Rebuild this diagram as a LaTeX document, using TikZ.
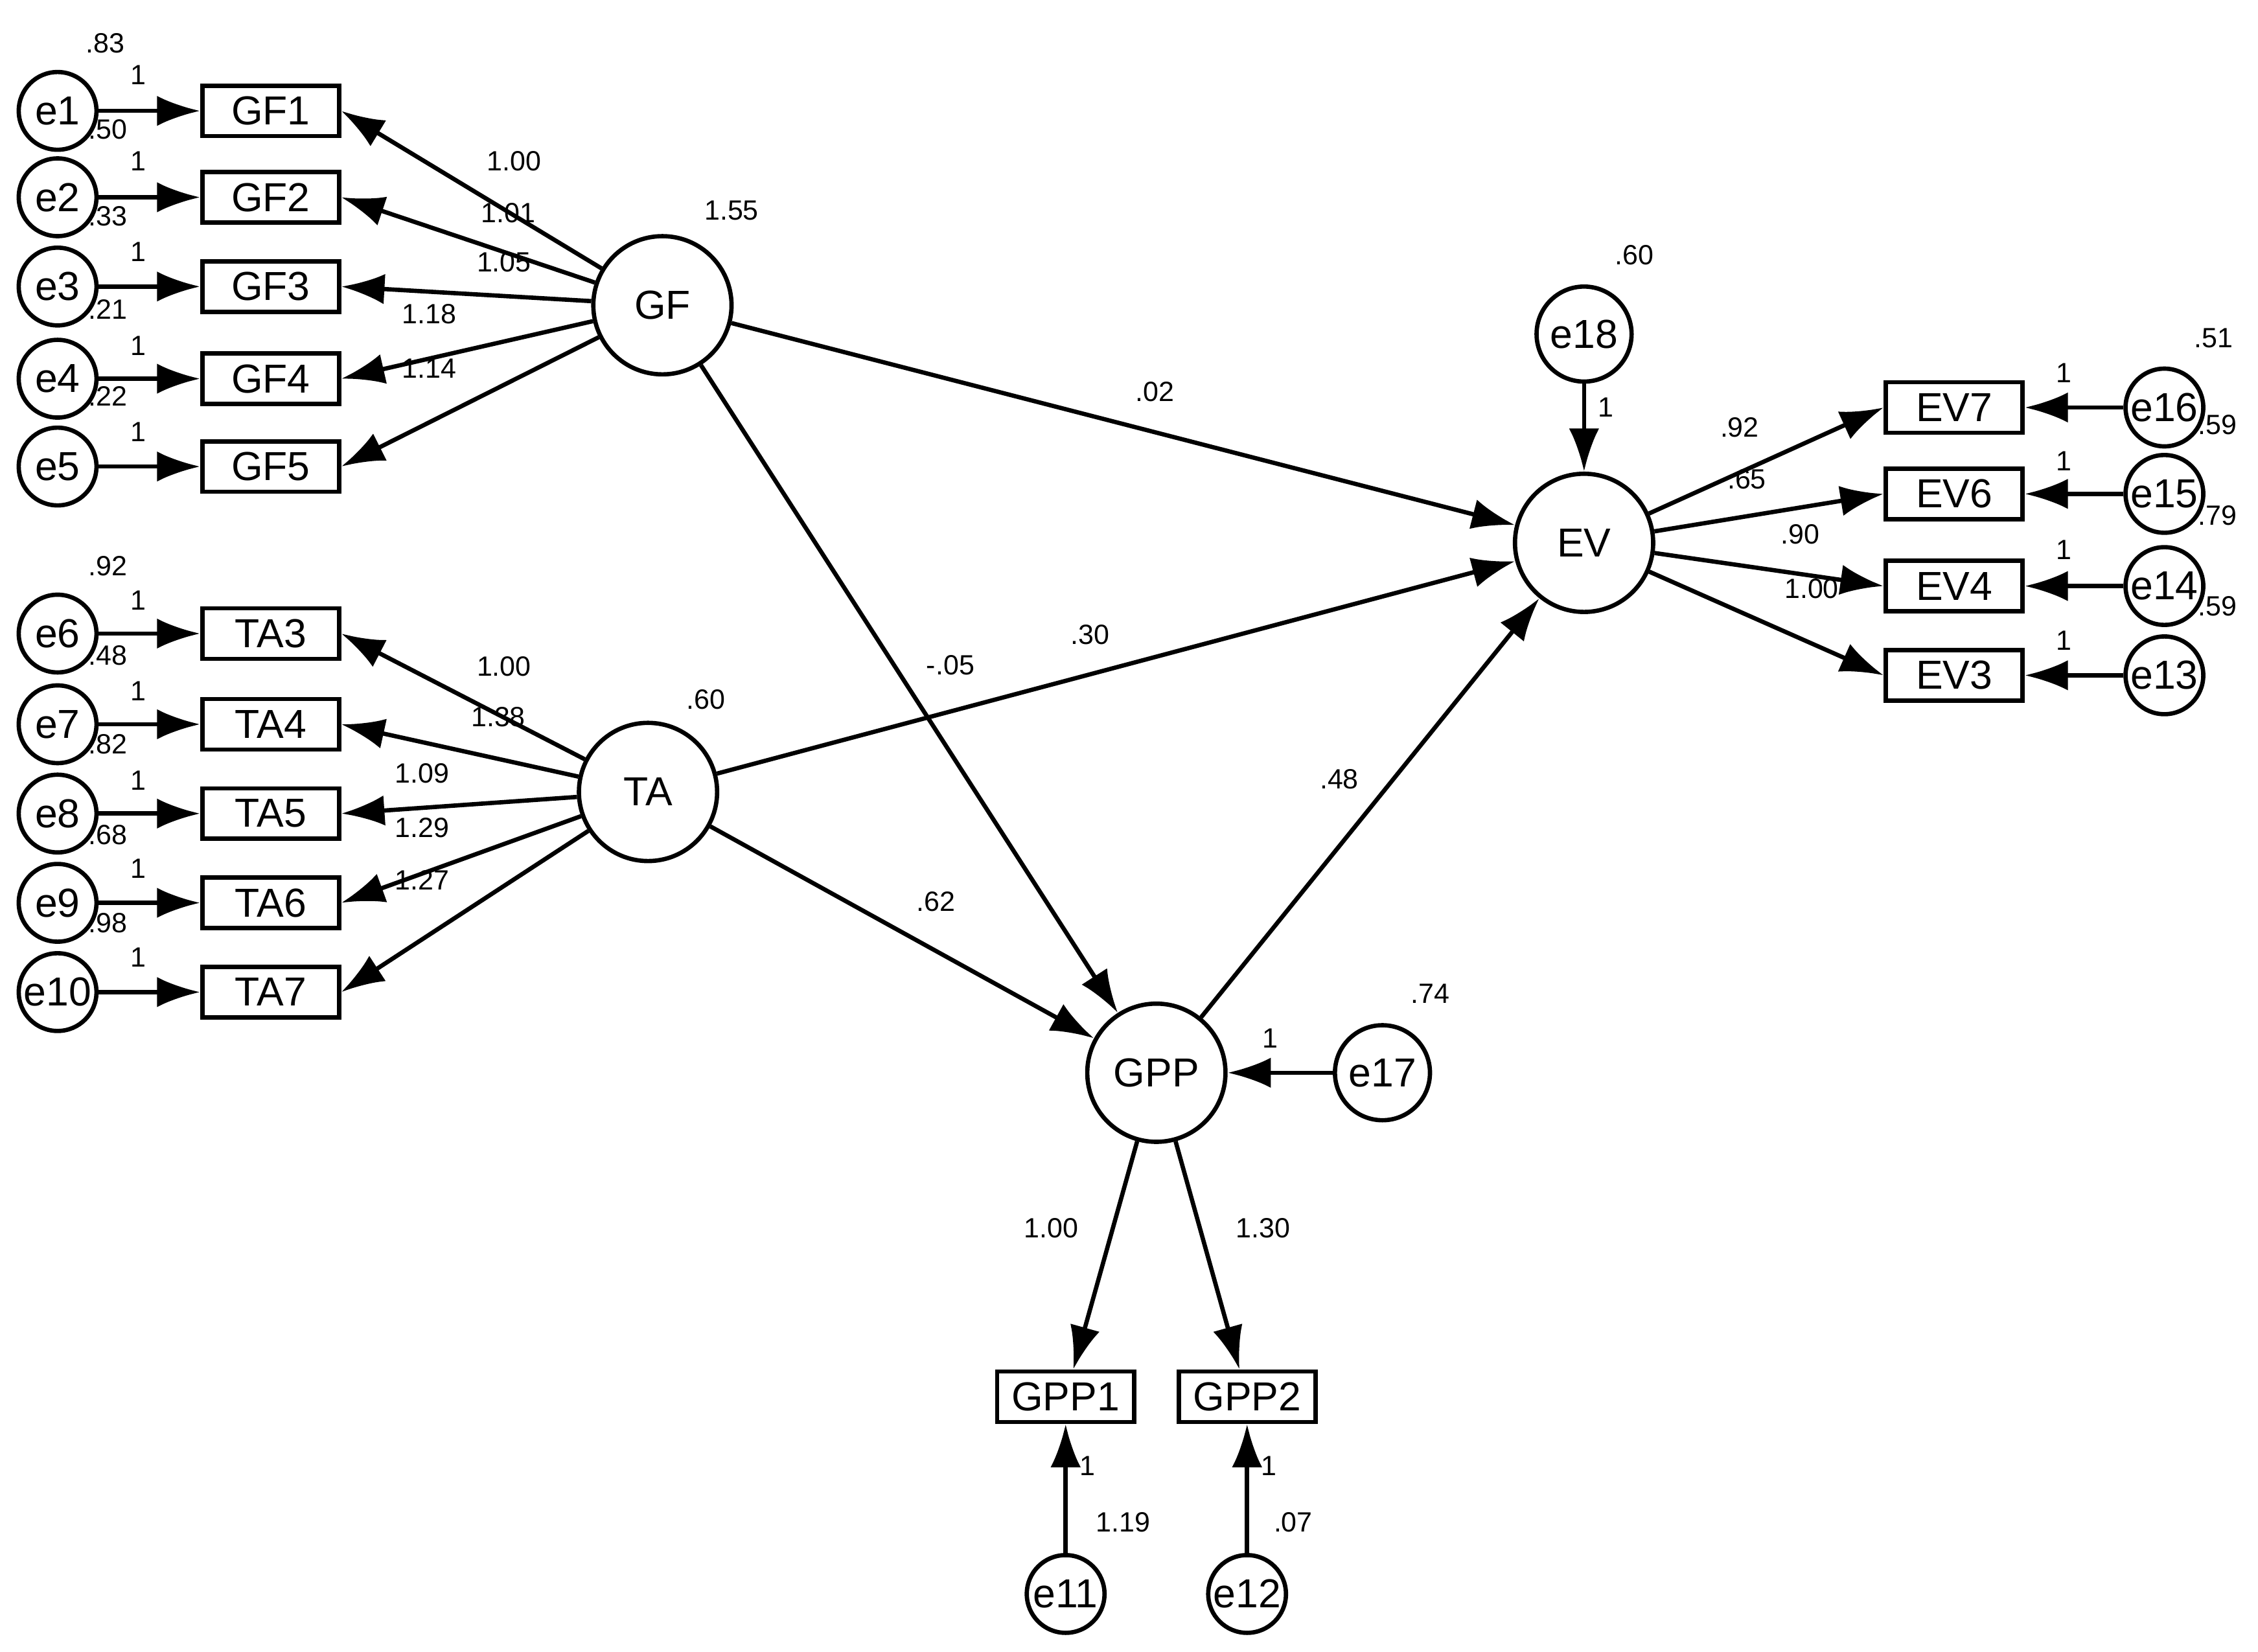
\documentclass[tikz,border=0pt]{standalone}
\usepackage{fontspec}
\setmainfont{Liberation Sans}
\usetikzlibrary{positioning,calc,arrows.meta}

\begin{document}
\begin{tikzpicture}[x=0.02cm,y=-0.02cm,line width=1.7pt,
				lat/.style={circle,draw,minimum size=1.92cm,inner sep=0pt,font=\fontsize{16}{18}\selectfont},
				err/.style={circle,draw,minimum size=1.08cm,inner sep=0pt,font=\fontsize{16}{18}\selectfont},
				bigerr/.style={err,minimum size=1.32cm},
				obs/.style={rectangle,draw,minimum width=1.9cm,minimum height=0.7cm,inner sep=0pt,font=\fontsize{16}{18}\selectfont},
				lbl/.style={font=\fontsize{11}{13}\selectfont,inner sep=0pt},
				path/.style={-{Latex[length=0.6cm,width=0.42cm]}}]
				\useasboundingbox (0,0) rectangle (1568,1147);
				% latent variables
				\node[lat] (GF)  at (460,212)  {GF};
				\node[lat] (TA)  at (450,550)  {TA};
				\node[lat] (EV)  at (1100,377) {EV};
				\node[lat] (GPP) at (803,745)  {GPP};
				% indicators of GF and TA
				\foreach \n/\y in {1/77,2/137,3/199,4/263,5/324} {
					\node[obs] (GF\n) at (188,\y) {GF\n};
					\node[err] (e\n) at (40,\y) {e\n};
					\draw[path] (e\n) -- (GF\n);
					\draw[path] (GF) -- (GF\n.east);
				}
				\foreach \n/\e/\y in {3/6/440,4/7/503,5/8/565,6/9/627,7/10/689} {
					\node[obs] (TA\n) at (188,\y) {TA\n};
					\node[err] (e\e) at (40,\y) {e\e};
					\draw[path] (e\e) -- (TA\n);
					\draw[path] (TA) -- (TA\n.east);
				}
				% indicators of EV
				\foreach \n/\e/\y in {7/16/283,6/15/343,4/14/407,3/13/469} {
					\node[obs] (EV\n) at (1357,\y) {EV\n};
					\node[err] (e\e) at (1503,\y) {e\e};
					\draw[path] (e\e) -- (EV\n);
					\draw[path] (EV) -- (EV\n.west);
				}
				% indicators of GPP
				\node[obs] (GPP1) at (740,970) {GPP1};
				\node[obs] (GPP2) at (866,970) {GPP2};
				\node[err] (e11) at (740,1107) {e11};
				\node[err] (e12) at (866,1107) {e12};
				\node[bigerr] (e17) at (960,745) {e17};
				\node[bigerr] (e18) at (1100,232) {e18};
				\draw[path] (GPP) -- (GPP1);
				\draw[path] (GPP) -- (GPP2);
				\draw[path] (e11) -- (GPP1);
				\draw[path] (e12) -- (GPP2);
				\draw[path] (e17) -- (GPP);
				\draw[path] (e18) -- (EV);
				% structural paths
				\draw[path] (GF) -- (EV);
				\draw[path] (GF) -- (GPP);
				\draw[path] (TA) -- (EV);
				\draw[path] (TA) -- (GPP);
				\draw[path] (GPP) -- (EV);
				% estimates
				\foreach \t/\x/\y in {.83/73/30,1/96/52,.50/75/90,1/96/112,.33/75/150,1/96/175,.21/75/215,1/96/240,.22/75/275,1/96/300,
					1.00/357/112,1.01/353/148,1.05/350/182,1.18/298/218,1.14/298/256,1.55/508/146,
					.92/75/393,1/96/417,.48/75/455,1/96/480,.82/75/517,1/96/542,.68/75/580,1/96/603,.98/75/641,1/96/665,
					1.00/350/463,1.38/346/498,1.09/293/537,1.29/293/575,1.27/293/611,.60/490/486,
					.02/802/272,.30/757/441,-.05/660/462,.62/650/626,.48/930/541,
					.60/1135/177,1/1115/283,.92/1208/297,.65/1213/333,.90/1250/371,1.00/1258/409,
					.51/1537/235,1/1433/259,.59/1540/295,1/1433/320,.79/1540/358,1/1433/382,.59/1540/421,1/1433/445,
					.74/993/690,1/882/721,1.00/730/853,1.30/877/853,1/755/1018,1.19/780/1057,1/881/1018,.07/898/1057}
					\node[lbl] at (\x,\y) {\t};
			\end{tikzpicture}
\end{document}
